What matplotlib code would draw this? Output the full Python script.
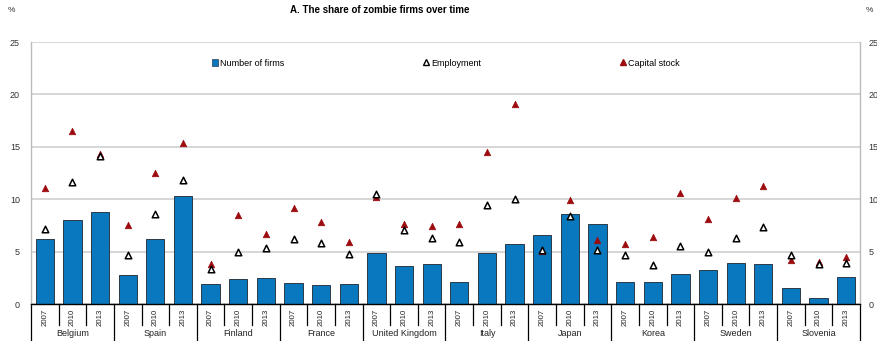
import numpy as np
import matplotlib
matplotlib.use("Agg")
import matplotlib.pyplot as plt
import matplotlib.transforms as mtransforms
from matplotlib.lines import Line2D
from matplotlib.patches import Patch

plt.rcParams['font.family'] = ['Liberation Sans Narrow', 'Liberation Sans', 'DejaVu Sans']

countries = ["Belgium", "Spain", "Finland", "France", "United Kingdom",
             "Italy", "Japan", "Korea", "Sweden", "Slovenia"]
years = ["2007", "2010", "2013"]

# share of zombie firms (%), three years per country
firms = [6.2, 8.0, 8.8,   2.8, 6.2, 10.3,  1.9, 2.4, 2.5,   2.0, 1.8, 1.9,
         4.9, 3.6, 3.8,   2.1, 4.9, 5.7,   6.6, 8.6, 7.6,   2.1, 2.1, 2.9,
         3.2, 3.9, 3.8,   1.5, 0.6, 2.6]
employment = [7.2, 11.6, 14.1,  4.7, 8.6, 11.8,  3.3, 5.0, 5.3,  6.2, 5.8, 4.8,
              10.5, 7.1, 6.3,   5.9, 9.4, 10.0,  5.2, 8.4, 5.2,  4.7, 3.7, 5.5,
              5.0, 6.3, 7.3,    4.7, 3.8, 3.9]
capital = [11.1, 16.5, 14.3,  7.5, 12.5, 15.4,  3.8, 8.5, 6.7,  9.2, 7.8, 5.9,
           10.2, 7.6, 7.4,    7.6, 14.5, 19.1,  5.1, 9.9, 6.1,  5.7, 6.4, 10.6,
           8.1, 10.1, 11.3,   4.2, 4.0, 4.5]

blue = "#0a78be"
red = "#9c0a0d"
grid = "#cfcfcf"

fig = plt.figure(figsize=(8.78, 3.41), dpi=100)
ax = fig.add_axes([31 / 878, 1 - 304 / 341, 829 / 878, 262 / 341])

x = np.arange(len(firms))
ax.bar(x, firms, width=0.66, color=blue, edgecolor="#2a3a48", linewidth=0.7, zorder=2)
ax.scatter(x, capital, marker="^", s=22, color=red, edgecolor=red, linewidth=0.5, zorder=3)
ax.scatter(x, employment, marker="^", s=22, facecolor="white", edgecolor="black",
           linewidth=1.1, zorder=4)

ax.set_xlim(-0.5, len(firms) - 0.5)
ax.set_ylim(0, 25)
yt = [0, 5, 10, 15, 20, 25]
ax.set_yticks(yt)
ax.yaxis.grid(True, color=grid, linewidth=1.2, zorder=0)
ax.set_axisbelow(True)
ax.tick_params(axis="y", length=0, labelsize=6.5, colors="#333333", pad=8)
ax.set_xticks([])
for s in ["left", "right"]:
    ax.spines[s].set_color("#bbbbbb")
    ax.spines[s].set_linewidth(1.0)
ax.spines["top"].set_visible(False)
ax.spines["bottom"].set_color("black")
ax.spines["bottom"].set_linewidth(1.0)

# same scale repeated on the right
ax2 = ax.secondary_yaxis("right")
ax2.set_yticks(yt)
ax2.tick_params(axis="y", length=0, labelsize=6.5, colors="#333333", pad=6)
ax2.spines["right"].set_visible(False)

# category axis: year labels, small separators, country separators
trans = mtransforms.blended_transform_factory(ax.transData, ax.transAxes)
for i in range(len(firms)):
    ax.text(i, -0.02, years[i % 3], rotation=90, ha="center", va="top",
            fontsize=5.6, color="#222222", transform=trans)
for b in np.arange(-0.5, len(firms), 1.0):
    if int(b + 0.5) % 3 == 0:
        ax.plot([b, b], [0, -0.142], color="black", lw=0.9, transform=trans, clip_on=False)
    else:
        ax.plot([b, b], [0, -0.08], color="black", lw=0.9, transform=trans, clip_on=False)
for k, c in enumerate(countries):
    ax.text(3 * k + 1, -0.112, c, ha="center", va="center", fontsize=6.5,
            color="#222222", transform=trans)

handles = [Patch(facecolor=blue, edgecolor="#2a3a48", linewidth=0.5),
           Line2D([], [], marker="^", ls="", markersize=4.5, markerfacecolor="white",
                  markeredgecolor="black", markeredgewidth=1.0),
           Line2D([], [], marker="^", ls="", markersize=4.5, color=red)]
ax.legend(handles, ["Number of firms", "Employment", "Capital stock"], ncol=3,
          loc="upper left", bbox_to_anchor=(0.208, 0.968), frameon=False, fontsize=6.5,
          handlelength=0.7, handleheight=0.7, handletextpad=0.2, columnspacing=15.4)

fig.text(290 / 878, 1 - 10 / 341, "A. The share of zombie firms over time",
         fontsize=7, fontweight="bold", ha="left", va="center")
fig.text(8 / 878, 1 - 10 / 341, "%", fontsize=6, ha="left", va="center", color="#333333")
fig.text(866 / 878, 1 - 10 / 341, "%", fontsize=6, ha="left", va="center", color="#333333")

fig.savefig("out.png", dpi=100)
